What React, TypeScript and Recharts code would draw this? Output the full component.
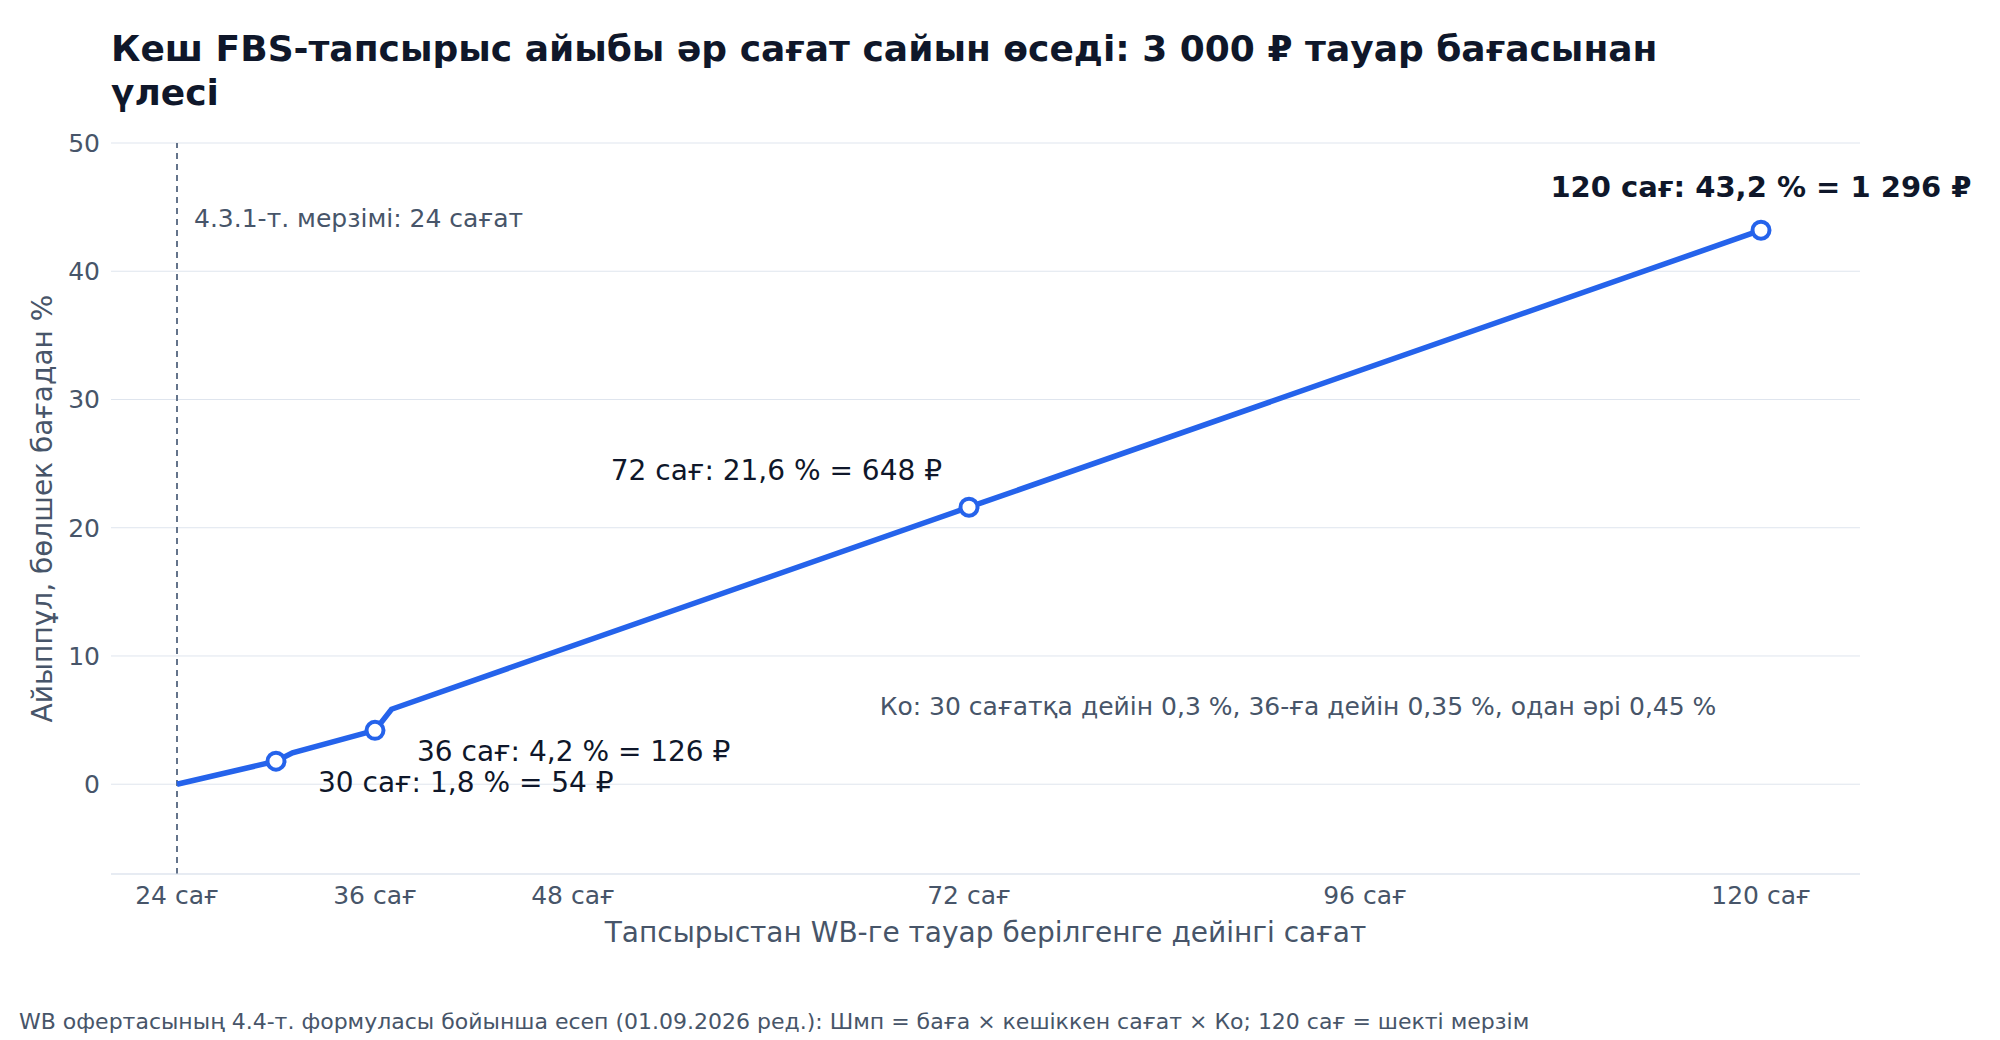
import { ComposedChart, Line, Scatter, XAxis, YAxis, CartesianGrid, ReferenceLine, ReferenceDot, Label } from 'recharts'

const hours = [24, 30, 31, 36, 37, 72, 120]
const penaltyPct = [0, 1.8, 2.45, 4.2, 5.85, 21.6, 43.2]

const markerHours = [30, 36, 72, 120]
const markerLabels = [
  '30 сағ: 1,8 % = 54 ₽',
  '36 сағ: 4,2 % = 126 ₽',
  '72 сағ: 21,6 % = 648 ₽',
  '120 сағ: 43,2 % = 1 296 ₽',
]

const xTicks = [24, 36, 48, 72, 96, 120]
const yTicks = [0, 10, 20, 30, 40, 50]

const titleLines = ['Кеш FBS-тапсырыс айыбы әр сағат сайын өседі: 3 000 ₽ тауар бағасынан', 'үлесі']
const xTitle = 'Тапсырыстан WB-ге тауар берілгенге дейінгі сағат'
const yTitle = 'Айыппұл, бөлшек бағадан %'
const deadlineHour = 24
const deadlineNote = '4.3.1-т. мерзімі: 24 сағат'
const rateNote = 'Ко: 30 сағатқа дейін 0,3 %, 36-ға дейін 0,35 %, одан әрі 0,45 %'
const rateNoteHour = 92
const rateNoteValue = 6
const footnote =
  'WB офертасының 4.4-т. формуласы бойынша есеп (01.09.2026 ред.): Шмп = баға × кешіккен сағат × Ко; 120 сағ = шекті мерзім'

const FONT = '"DejaVu Sans", sans-serif'
const BLUE = '#2563eb'
const DARK = '#0f172a'
const MUTED = '#475569'
const GRID = '#dfe5ee'

const lineData = hours.map((h, i) => ({ hour: h, value: penaltyPct[i] }))
const markerData = markerHours.map((h, i) => ({ hour: h, value: penaltyPct[hours.indexOf(h)], idx: i }))

// where each point label sits relative to its marker
const LABEL_PLACE = [
  { dx: 42, dy: 31, anchor: 'start', bold: false, size: 28 },
  { dx: 42, dy: 31, anchor: 'start', bold: false, size: 28 },
  { dx: -27, dy: -27, anchor: 'end', bold: false, size: 28 },
  { dx: 0, dy: -33, anchor: 'middle', bold: true, size: 29 },
]

const renderMarker = (props: any) => {
  const { cx, cy, payload } = props
  const p = LABEL_PLACE[payload.idx]
  return (
    <g>
      <circle cx={cx} cy={cy} r={8.5} fill="#fff" stroke={BLUE} strokeWidth={4} />
      <text
        x={cx + p.dx}
        y={cy + p.dy}
        textAnchor={p.anchor}
        fontSize={p.size}
        fontWeight={p.bold ? 700 : 400}
        fill={DARK}
        fontFamily={FONT}
      >
        {markerLabels[payload.idx]}
      </text>
    </g>
  )
}

export default function App() {
  return (
    <div style={{ position: 'absolute', left: 0, top: 0, width: 2000, height: 1040, background: '#fff', fontFamily: FONT }}>
      <div style={{ position: 'absolute', left: 111, top: 27, fontSize: 36, lineHeight: '44px', fontWeight: 700, color: DARK, whiteSpace: 'nowrap' }}>
        {titleLines.map((t) => (
          <div key={t}>{t}</div>
        ))}
      </div>

      <ComposedChart width={2000} height={1040} margin={{ top: 143, right: 140, bottom: 106, left: 0 }}>
        <CartesianGrid vertical={false} stroke={GRID} strokeWidth={1} />
        <XAxis
          dataKey="hour"
          type="number"
          domain={[20, 126]}
          ticks={xTicks}
          height={60}
          tickFormatter={(h: number) => `${h} сағ`}
          tick={{ fontSize: 25, fill: MUTED, fontFamily: FONT }}
          tickSize={0}
          tickMargin={12}
          axisLine={{ stroke: GRID, strokeWidth: 1 }}
        >
          <Label
            content={({ viewBox }: any) => (
              <text x={viewBox.x + viewBox.width / 2} y={942} textAnchor="middle" fontSize={28} fill={MUTED} fontFamily={FONT}>
                {xTitle}
              </text>
            )}
          />
        </XAxis>
        <YAxis
          type="number"
          domain={[-7, 50]}
          ticks={yTicks}
          width={111}
          tick={{ fontSize: 25, fill: MUTED, fontFamily: FONT }}
          tickSize={0}
          tickMargin={11}
          axisLine={false}
        >
          <Label
            content={({ viewBox }: any) => {
              const cy = viewBox.y + viewBox.height / 2
              return (
                <text
                  x={42}
                  y={cy}
                  transform={`rotate(-90 42 ${cy})`}
                  textAnchor="middle"
                  dominantBaseline="central"
                  fontSize={28}
                  fill={MUTED}
                  fontFamily={FONT}
                >
                  {yTitle}
                </text>
              )
            }}
          />
        </YAxis>

        <ReferenceLine
          x={deadlineHour}
          stroke="#64748b"
          strokeWidth={2}
          strokeDasharray="6 5"
          label={({ viewBox }: any) => (
            <text x={viewBox.x + 17} y={viewBox.y + 84} fontSize={25} fill={MUTED} fontFamily={FONT}>
              {deadlineNote}
            </text>
          )}
        />

        <Line
          data={lineData}
          dataKey="value"
          type="linear"
          stroke={BLUE}
          strokeWidth={5.5}
          dot={false}
          activeDot={false}
          isAnimationActive={false}
        />
        <Scatter data={markerData} dataKey="value" shape={renderMarker} isAnimationActive={false} />

        <ReferenceDot
          x={rateNoteHour}
          y={rateNoteValue}
          shape={(p: any) => (
            <text x={p.cx - 1} y={p.cy + 8} textAnchor="middle" fontSize={25} fill={MUTED} fontFamily={FONT}>
              {rateNote}
            </text>
          )}
        />
      </ComposedChart>

      <div style={{ position: 'absolute', left: 19, top: 1011, fontSize: 22, lineHeight: '22px', color: MUTED, whiteSpace: 'nowrap' }}>
        {footnote}
      </div>
    </div>
  )
}
